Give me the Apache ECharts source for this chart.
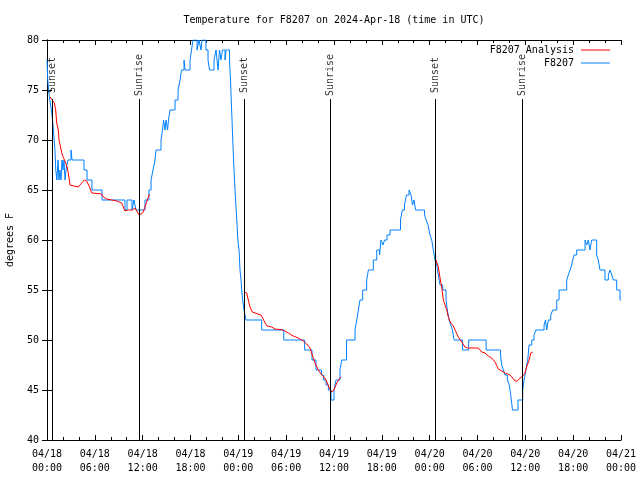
<!DOCTYPE html>
<html><head><meta charset="utf-8">
<script src="https://cdn.jsdelivr.net/npm/echarts@6/dist/echarts.min.js"></script>
<style>html,body{margin:0;padding:0;background:#fff}#c{width:640px;height:480px}</style>
</head><body><div id="c"></div>
<script>
const titleText = 'Temperature for F8207 on 2024-Apr-18 (time in UTC)';
const yAxisName = 'degrees F';
const startMonth = '04';
const startDay = 18;
const seriesNames = ['F8207 Analysis', 'F8207'];

// hours since 04/18 00:00 UTC
const blueHours = [0.00,0.10,0.20,0.35,0.55,0.70,0.80,0.90,1.00,1.10,1.25,1.38,1.51,1.63,1.76,1.88,2.01,2.13,2.26,2.38,2.63,3.01,3.14,4.64,5.02,5.64,6.90,9.78,10.04,10.66,10.91,11.16,12.29,12.79,13.05,13.30,13.55,13.67,14.30,14.49,14.62,14.80,14.93,15.12,15.24,15.43,16.06,16.44,16.69,16.87,17.19,17.31,17.94,18.13,18.31,18.82,19.07,19.32,19.44,19.94,20.20,20.38,20.95,21.20,21.45,21.64,21.83,22.01,22.33,22.45,22.89,23.02,23.11,23.21,23.30,23.40,23.52,23.65,23.81,23.94,24.09,24.21,24.34,24.42,24.55,24.71,24.96,26.93,29.70,32.31,33.24,33.74,34.43,34.69,35.00,35.29,35.63,36.00,36.25,36.75,36.97,37.57,38.64,38.86,39.06,39.26,39.60,40.10,40.31,40.93,41.36,41.71,41.90,42.15,42.34,42.65,43.03,44.34,44.57,44.84,45.09,45.41,45.66,45.85,46.04,46.23,47.36,47.55,47.80,48.04,48.26,48.46,48.67,48.89,49.09,49.30,49.64,50.05,50.22,50.43,50.65,50.85,51.07,52.13,52.89,55.08,56.89,57.04,57.24,57.45,57.74,57.99,58.17,58.39,59.08,59.67,59.84,59.96,60.17,60.30,60.47,60.80,61.09,61.34,62.35,62.53,62.68,62.89,63.19,63.44,63.94,64.23,65.19,65.39,65.61,65.82,65.94,66.11,66.44,67.49,67.70,67.90,68.11,68.32,68.95,69.15,69.37,69.99,70.41,70.62,70.84,71.04,71.46,71.88,72.00];
const blueTemps = [78,76,75,74,73,72,71,70,69,67,66,68,66,67,66,68,67,68,66,67,68,69,68,67,66,65,64,63,64,63,64,63,64,65,66,67,68,69,70,71,72,71,72,71,72,73,74,75,76,77,78,77,78,79,80,79,80,79,80,79,78,77,78,79,77,79,78,79,78,79,78,76,74,72,70,68,66,64,62,60,59,57,56,55,54,53,52,51,50,49,48,47,46.5,46,45.5,45,44,45,46,47,48,50,51,52,53,54,55,56,57,58,59,58.5,60,59.5,60,60.5,61,62,63,63.5,64.5,65,64.5,63.5,64,63,62.5,62,61.5,60.5,60,59,58,57.5,56.5,55.5,55,54,53,52,51.5,51,50,49,50,49,48.5,47.5,47,46.5,46,45.5,44.5,43,44,45,46,46.5,47.5,48,49.5,50,50.5,51,51.5,52,51,52,52.5,53,54,55,56,56.5,57,57.5,58,58.5,59,60,59.5,60,59,60,58.5,58,57,56,56.5,57,56.5,56,55,54,54];

const redHours = [0.40,0.92,1.09,1.22,1.42,1.51,1.72,1.92,2.17,2.35,2.55,2.67,2.89,3.10,3.93,4.14,4.35,4.68,4.98,5.18,5.39,5.61,6.86,7.06,7.49,8.12,8.74,9.37,9.57,9.78,10.20,10.70,11.04,11.25,11.54,11.75,12.00,12.29,12.71,12.86,
  18.00,
  24.75,25.05,25.25,25.46,25.75,26.09,26.84,27.06,27.35,27.63,28.19,28.60,29.64,30.27,30.90,31.52,32.15,32.58,32.99,33.28,33.62,34.03,34.46,34.87,35.16,35.41,35.71,36.00,36.34,36.67,36.88,
  42.00,
  48.80,49.09,49.30,49.51,49.71,49.93,50.14,50.34,50.64,50.97,51.18,51.60,52.02,52.43,52.72,54.10,54.53,54.94,55.36,55.78,56.20,56.61,57.04,57.45,58.08,58.42,58.71,59.00,59.34,59.67,59.96,60.17,60.47,60.69,60.94];
const redTemps = [74.3,73.7,73,71.7,71,70,69.2,68.5,68.4,67.7,67.2,66.7,65.5,65.3,65.3,65.4,65.7,66,65.9,65.7,65.2,64.7,64.6,64.3,64.1,64,63.9,63.7,63.3,62.9,63,63,63.2,63,62.5,62.3,62.7,63.3,64.3,64.6,
  null,
  54.8,54.7,54,53.3,52.8,52.7,52.5,52.2,51.7,51.4,51.3,51.1,51,50.7,50.4,50.2,49.9,49.6,49.2,48.5,47.7,47,46.5,46.2,45.7,45.2,44.8,45,45.7,46.1,46.3,
  null,
  58,57.3,56.2,55.3,54,54,53,52.3,51.7,51.4,51,50.3,49.8,49.3,49.2,49.2,48.8,48.7,48.4,48.2,47.8,47.1,46.9,46.7,46.5,46.2,45.9,45.9,46.2,46.4,46.7,47.3,48,48.7,48.8];

const sunHours = [0.66, 11.60, 24.72, 35.58, 48.72, 59.60];
const sunNames = ['Sunset', 'Sunrise', 'Sunset', 'Sunrise', 'Sunset', 'Sunrise'];

const xMin = 0, xMax = 72, xStep = 6;
const yMin = 40, yMax = 80, yStep = 5;

const FONT = 'DejaVu Sans Mono';
const pad = n => (n < 10 ? '0' : '') + n;
const fmtX = v => {
  const d = Math.floor(v / 24), h = Math.round(v - d * 24);
  return startMonth + '/' + pad(startDay + d) + '\n' + pad(h) + ':00';
};

const blueData = blueHours.map((h, i) => [h, blueTemps[i]]);
const redData = redHours.map((h, i) => [h, redTemps[i]]);
const sunLabelLevel = 76.35, sunLineTop = 74.1;

const chart = echarts.init(document.getElementById('c'), null, {renderer: 'canvas'});
const axisCommon = {
  axisLine: {show: true, lineStyle: {color: '#000', width: 1}},
  axisTick: {show: true, inside: true, length: 5, lineStyle: {color: '#000'}},
  splitLine: {show: false},
};
chart.setOption({
  animation: false,
  backgroundColor: '#fff',
  textStyle: {fontFamily: FONT},
  title: {
    text: titleText, left: 334, top: 15, padding: 0, textAlign: 'center',
    textStyle: {fontFamily: FONT, fontSize: 10, fontWeight: 'normal', color: '#000'}
  },
  legend: {
    orient: 'vertical', right: 25, top: 39, align: 'right', itemGap: 1,
    itemWidth: 29, itemHeight: 1, icon: 'rect',
    data: seriesNames,
    textStyle: {fontFamily: FONT, fontSize: 10, color: '#000', lineHeight: 12, padding: [0, 2, 0, 0]}
  },
  grid: {left: 47, right: 19, top: 40, bottom: 40, containLabel: false, outerBoundsMode: 'none'},
  xAxis: [
    Object.assign({}, axisCommon, {
      type: 'value', min: xMin, max: xMax, interval: xStep, position: 'bottom',
      minorTick: {show: true, splitNumber: 3, length: 3, lineStyle: {color: '#000'}},
      axisLabel: {formatter: fmtX, fontFamily: FONT, fontSize: 10, color: '#000', lineHeight: 14, margin: 7}
    }),
    Object.assign({}, axisCommon, {
      type: 'value', min: xMin, max: xMax, interval: xStep, position: 'top',
      minorTick: {show: true, splitNumber: 3, length: 3, lineStyle: {color: '#000'}},
      axisLabel: {show: false}
    })
  ],
  yAxis: [
    Object.assign({}, axisCommon, {
      type: 'value', min: yMin, max: yMax, interval: yStep, position: 'left',
      name: yAxisName, nameLocation: 'middle', nameGap: 32,
      nameTextStyle: {fontFamily: FONT, fontSize: 10, color: '#000'},
      axisLabel: {fontFamily: FONT, fontSize: 10, color: '#000', margin: 8}
    }),
    Object.assign({}, axisCommon, {
      type: 'value', min: yMin, max: yMax, interval: yStep, position: 'right',
      axisLabel: {show: false}
    })
  ],
  series: [
    {
      name: seriesNames[0], type: 'line', data: redData, showSymbol: false,
      connectNulls: false, color: '#ff0000', lineStyle: {width: 1, color: '#ff0000'}, z: 3
    },
    {
      name: seriesNames[1], type: 'line', step: 'end', data: blueData, showSymbol: false,
      color: '#0080ff', lineStyle: {width: 1, color: '#0080ff'}, z: 2
    },
    {
      name: 'sun', type: 'scatter', symbolSize: 1, itemStyle: {color: 'rgba(0,0,0,0)'}, z: 5,
      data: sunHours.map((h, i) => ({value: [h, sunLabelLevel], name: sunNames[i]})),
      label: {show: true, formatter: '{b}', rotate: 90, position: 'inside', offset: [1.5, 0],
              fontFamily: FONT, fontSize: 10, color: '#000'},
      markLine: {
        silent: true, symbol: 'none', animation: false,
        label: {show: false},
        lineStyle: {color: '#000', width: 1, type: 'solid'},
        data: sunHours.map(h => [{coord: [h, yMin]}, {coord: [h, sunLineTop]}])
      }
    }
  ]
});
</script></body></html>
